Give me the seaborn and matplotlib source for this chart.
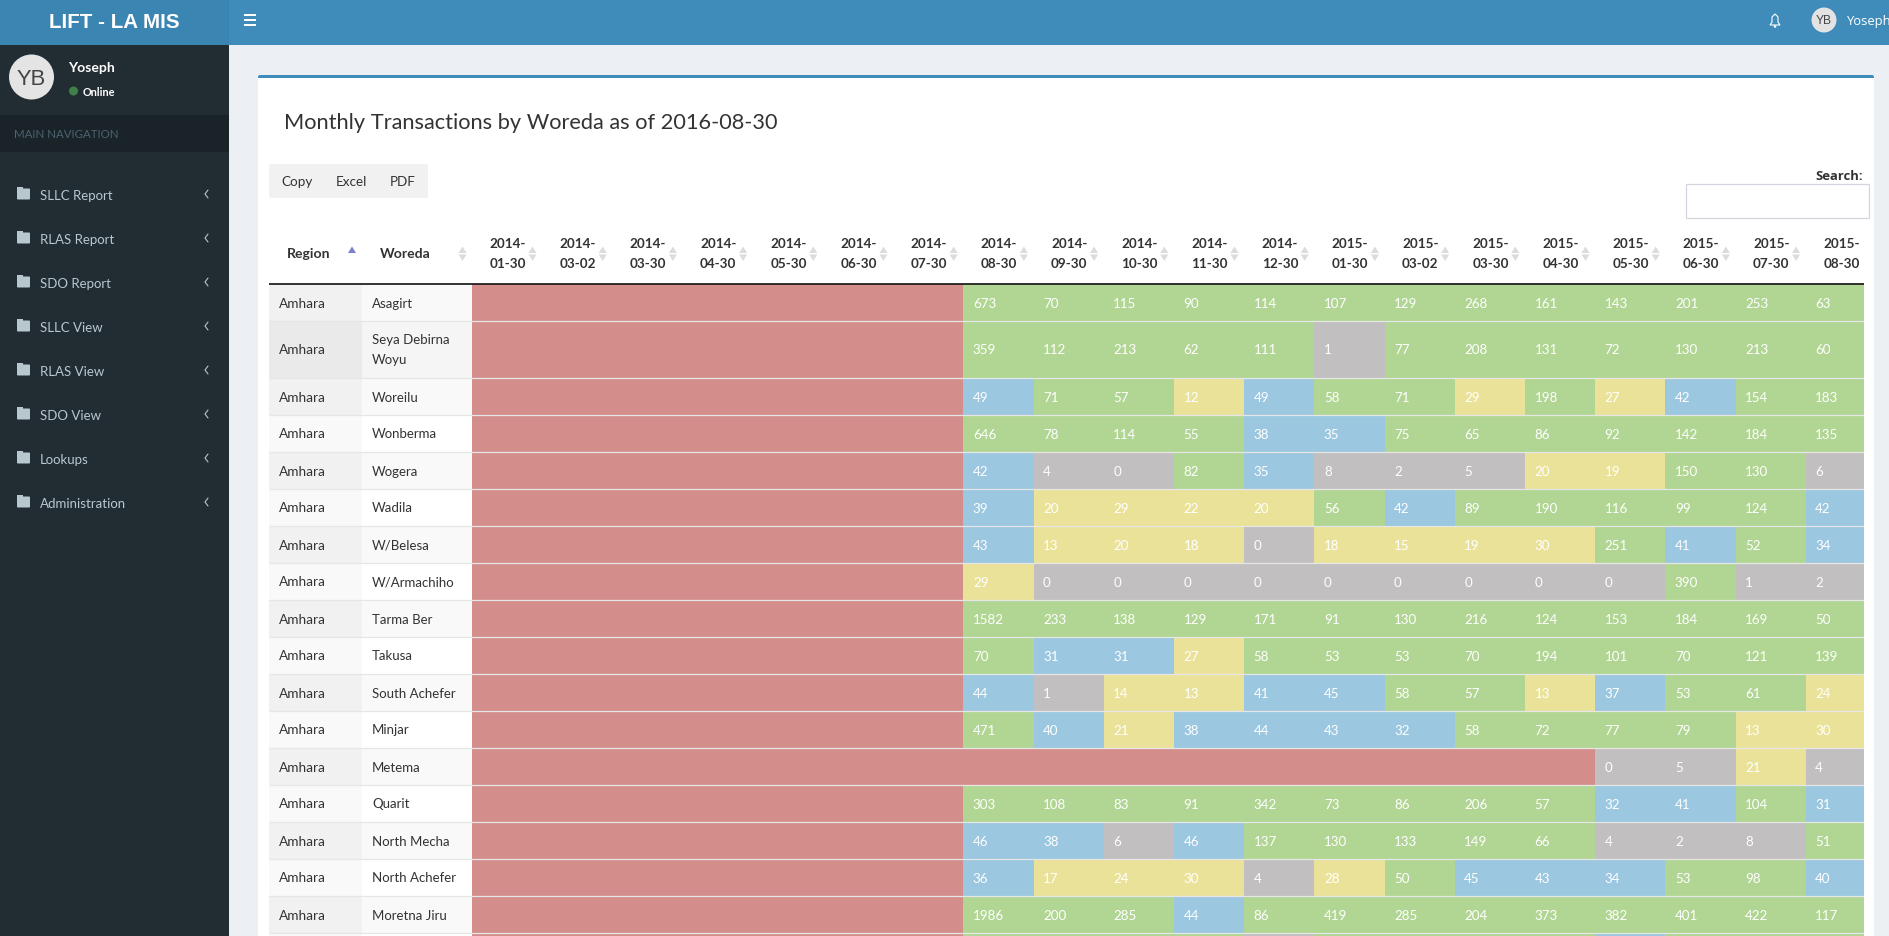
"""Monthly transactions by woreda, drawn as a dashboard screenshot."""

import matplotlib.pyplot as plt
import numpy as np
import pandas as pd
import seaborn as sns
from matplotlib.colors import BoundaryNorm, ListedColormap
from matplotlib.patches import Circle, FancyBboxPatch, Polygon, Rectangle

MONTHS = [
    "2014-01-30", "2014-03-02", "2014-03-30", "2014-04-30", "2014-05-30",
    "2014-06-30", "2014-07-30", "2014-08-30", "2014-09-30", "2014-10-30",
    "2014-11-30", "2014-12-30", "2015-01-30", "2015-03-02", "2015-03-30",
    "2015-04-30", "2015-05-30", "2015-06-30", "2015-07-30", "2015-08-30",
]
WOREDAS = [
    "Asagirt", "Seya Debirna\nWoyu", "Woreilu", "Wonberma", "Wogera", "Wadila",
    "W/Belesa", "W/Armachiho", "Tarma Ber", "Takusa", "South Achefer", "Minjar",
    "Metema", "Quarit", "North Mecha", "North Achefer", "Moretna Jiru",
]
NO_DATA = [np.nan] * 7

ASAGIRT = NO_DATA + [673, 70, 115, 90, 114, 107, 129, 268, 161, 143, 201, 253, 63]
SEYA = NO_DATA + [359, 112, 213, 62, 111, 1, 77, 208, 131, 72, 130, 213, 60]
WOREILU = NO_DATA + [49, 71, 57, 12, 49, 58, 71, 29, 198, 27, 42, 154, 183]
WONBERMA = NO_DATA + [646, 78, 114, 55, 38, 35, 75, 65, 86, 92, 142, 184, 135]
WOGERA = NO_DATA + [42, 4, 0, 82, 35, 8, 2, 5, 20, 19, 150, 130, 6]
WADILA = NO_DATA + [39, 20, 29, 22, 20, 56, 42, 89, 190, 116, 99, 124, 42]
BELESA = NO_DATA + [43, 13, 20, 18, 0, 18, 15, 19, 30, 251, 41, 52, 34]
ARMACHIHO = NO_DATA + [29, 0, 0, 0, 0, 0, 0, 0, 0, 0, 390, 1, 2]
TARMA_BER = NO_DATA + [1582, 233, 138, 129, 171, 91, 130, 216, 124, 153, 184, 169, 50]
TAKUSA = NO_DATA + [70, 31, 31, 27, 58, 53, 53, 70, 194, 101, 70, 121, 139]
SOUTH_ACHEFER = NO_DATA + [44, 1, 14, 13, 41, 45, 58, 57, 13, 37, 53, 61, 24]
MINJAR = NO_DATA + [471, 40, 21, 38, 44, 43, 32, 58, 72, 77, 79, 13, 30]
METEMA = NO_DATA + [np.nan] * 9 + [0, 5, 21, 4]
QUARIT = NO_DATA + [303, 108, 83, 91, 342, 73, 86, 206, 57, 32, 41, 104, 31]
NORTH_MECHA = NO_DATA + [46, 38, 6, 46, 137, 130, 133, 149, 66, 4, 2, 8, 51]
NORTH_ACHEFER = NO_DATA + [36, 17, 24, 30, 4, 28, 50, 45, 43, 34, 53, 98, 40]
MORETNA_JIRU = NO_DATA + [1986, 200, 285, 44, 86, 419, 285, 204, 373, 382, 401, 422, 117]
# only the top edge of this row shows, its numbers are guessed from the colours
CUT_OFF_ROW = NO_DATA + [60, 60, 60, 60, 4, 60, 60, 60, 60, 40, 60, 60, 60]

ROWS = [
    ASAGIRT, SEYA, WOREILU, WONBERMA, WOGERA, WADILA, BELESA, ARMACHIHO, TARMA_BER,
    TAKUSA, SOUTH_ACHEFER, MINJAR, METEMA, QUARIT, NORTH_MECHA, NORTH_ACHEFER,
    MORETNA_JIRU, CUT_OFF_ROW,
]
MENU_ITEMS = [
    "SLLC Report", "RLAS Report", "SDO Report", "SLLC View",
    "RLAS View", "SDO View", "Lookups", "Administration",
]

BANDS = [0, 10, 31, 50, 100000]
BAND_COLORS = ["#c1bfc0", "#ebe299", "#9bc7e0", "#b1d693"]
MISSING_COLOR = "#d38d8b"

WIDTH, HEIGHT = 1890, 936
TABLE_TOP = 283.5
COL_LEFT = 472
COL_W = 70.2
LAST_COL_W = 58
ROW_H = 37
TALL_ROW_H = 57
FONT = "Lato"
TEXT = "#333333"


def px_rect(ax, x0, y0, x1, y1, color, **kwargs):
    ax.add_patch(Rectangle((x0, y0), x1 - x0, y1 - y0, facecolor=color, edgecolor="none", **kwargs))


def label(ax, x, y, text, size, color=TEXT, weight="normal", ha="left", family=FONT, **kwargs):
    return ax.text(x, y, text, fontsize=size * 0.72, color=color, fontweight=weight, ha=ha,
                   va="center_baseline", family=family, **kwargs)


def draw_chrome(ax):
    px_rect(ax, 0, 0, WIDTH, HEIGHT, "#ecf0f5")
    px_rect(ax, 0, 0, WIDTH, 45, "#3f8cbb")
    px_rect(ax, 0, 0, 229, 45, "#3b85b2")
    px_rect(ax, 0, 45, 229, HEIGHT, "#222d33")
    px_rect(ax, 0, 115, 229, 152, "#1a2327")
    label(ax, 114.5, 20, "LIFT - LA MIS", 20.5, "white", "bold", "center", "Liberation Sans")
    for y in (15, 20, 25):
        px_rect(ax, 244, y - 1.3, 256, y + 1.3, "white")

    # bell and user on the right of the top bar
    ax.add_patch(Polygon([(1770, 25), (1772, 22), (1772, 17), (1775, 14), (1778, 17), (1778, 22), (1780, 25)],
                         closed=True, facecolor="none", edgecolor="white", lw=0.8))
    ax.add_patch(Circle((1775, 26.5), 1.3, facecolor="white", edgecolor="none"))
    ax.add_patch(Circle((1824, 20), 12.5, facecolor="#e3e3e3", edgecolor="none"))
    label(ax, 1824, 20, "YB", 12, "#444444", ha="center", family="Liberation Sans")
    label(ax, 1847, 20, "Yoseph", 13, "white", family="Open Sans")

    # user panel
    ax.add_patch(Circle((31.5, 77), 22.5, facecolor="#e4e4e4", edgecolor="none"))
    label(ax, 31.5, 77, "YB", 22, "#444444", ha="center", family="Liberation Sans")
    label(ax, 68.5, 67.5, "Yoseph", 14, "white", "bold")
    ax.add_patch(Circle((73.5, 91), 4.5, facecolor="#3f7f4a", edgecolor="none"))
    label(ax, 83, 91, "Online", 11, "white", "bold")
    label(ax, 14, 134, "MAIN NAVIGATION", 11.5, "#4b646f")

    for i, item in enumerate(MENU_ITEMS):
        y = 194 + i * 44
        ax.add_patch(FancyBboxPatch((18, y - 4.5), 11, 9, boxstyle="round,pad=1", facecolor="#b8c7ce", edgecolor="none"))
        px_rect(ax, 17, y - 7, 23, y - 4, "#b8c7ce")
        label(ax, 40, y + 0.5, item, 13.2, "#b8c7ce")
        ax.plot([208, 205, 208], [y - 4, y, y + 4], color="#b8c7ce", lw=0.8)

    # main box
    ax.add_patch(FancyBboxPatch((260, 77), 1612, HEIGHT, boxstyle="round,pad=2", facecolor="#3c8dbc", edgecolor="none"))
    px_rect(ax, 258, 78, 1874, HEIGHT, "white")
    label(ax, 284, 121, "Monthly Transactions by Woreda as of 2016-08-30", 21.8)

    ax.add_patch(FancyBboxPatch((271, 166), 155, 30, boxstyle="round,pad=2", facecolor="#f1f1f1", edgecolor="none"))
    for x, name in zip((297, 351.5, 403), ("Copy", "Excel", "PDF")):
        label(ax, x, 181, name, 13.5, ha="center")
    label(ax, 1863.5, 175, "Search:", 13, weight="bold", ha="right", family="Open Sans")
    ax.add_patch(Rectangle((1686, 184), 183, 34, facecolor="white", edgecolor="#d2d6de", lw=0.9))


def sort_arrows(ax, x, up_color="#dcdcdc", down=True):
    ax.add_patch(Polygon([(x - 4, 253), (x + 4, 253), (x, 246.5)], facecolor=up_color, edgecolor="none"))
    if down:
        ax.add_patch(Polygon([(x - 4, 254.5), (x + 4, 254.5), (x, 261)], facecolor=up_color, edgecolor="none"))


def draw_table_labels(ax, row_edges):
    label(ax, 287, 253, "Region", 14, weight="bold")
    sort_arrows(ax, 352, "#7a80cc", down=False)
    label(ax, 380, 253, "Woreda", 14, weight="bold")
    sort_arrows(ax, 462.5)
    for i, month in enumerate(MONTHS):
        left = COL_LEFT + i * COL_W
        year, rest = month[:4], month[5:]
        label(ax, left + 17.5, 243, year + "-", 13.5, weight="bold")
        label(ax, left + 17.5, 263, rest, 13.5, weight="bold")
        if i < len(MONTHS) - 1:
            sort_arrows(ax, left + 60.5)

    for i in range(len(ROWS)):
        top, bottom = row_edges[i], row_edges[i + 1]
        striped = i % 2 == 0
        region_bg, woreda_bg = ("#f1f1f1", "#f9f9f9") if striped else ("#f9f9f9", "#ffffff")
        if i == 1:
            region_bg, woreda_bg = "#eaeaea", "#f5f5f5"
        px_rect(ax, 269, top, 362, bottom, region_bg)
        px_rect(ax, 362, top, COL_LEFT, bottom, woreda_bg)
        if i < len(WOREDAS):
            mid = (top + bottom) / 2 + 0.5
            label(ax, 279, mid, "Amhara", 13.6)
            lines = WOREDAS[i].split("\n")
            for k, line in enumerate(lines):
                label(ax, 372, mid + (k - (len(lines) - 1) / 2) * 20, line, 13.2)


def draw_heatmap(fig, row_edges):
    # heatmap cells are uniform, the function scales stretch them to the real table grid
    table = pd.DataFrame(ROWS, columns=MONTHS)
    col_edges = COL_LEFT + COL_W * np.arange(len(MONTHS) + 1)
    col_edges[-1] = col_edges[-2] + LAST_COL_W
    col_idx = np.arange(len(MONTHS) + 1)
    row_idx = np.arange(len(ROWS) + 1)

    ax = fig.add_axes([COL_LEFT / WIDTH, 0, (col_edges[-1] - COL_LEFT) / WIDTH, (HEIGHT - TABLE_TOP) / HEIGHT])
    cmap = ListedColormap(BAND_COLORS)
    cmap.set_bad(MISSING_COLOR)
    sns.heatmap(table, ax=ax, cmap=cmap, norm=BoundaryNorm(BANDS, cmap.N), cbar=False,
                xticklabels=False, yticklabels=False)
    ax.set_facecolor(MISSING_COLOR)
    ax.set_xscale("function", functions=(lambda v: np.interp(v, col_idx, col_edges),
                                         lambda p: np.interp(p, col_edges, col_idx)))
    ax.set_yscale("function", functions=(lambda v: np.interp(v, row_idx, row_edges),
                                         lambda p: np.interp(p, row_edges, row_idx)))
    ax.set_xlim(0, len(MONTHS))
    ax.set_ylim(np.interp(HEIGHT, row_edges, row_idx), 0)
    ax.set_xlabel("")
    ax.set_ylabel("")
    ax.tick_params(left=False, bottom=False, which="both", labelleft=False, labelbottom=False)

    for i, row in enumerate(ROWS[:len(WOREDAS)]):
        for j, value in enumerate(row):
            if not np.isnan(value):
                ax.annotate(str(int(value)), xy=(j, i + 0.5), xytext=(9.5, -0.5), textcoords="offset pixels",
                            fontsize=13.4 * 0.72, color="white", family=FONT, va="center_baseline")
    return ax


def main():
    sns.set_theme(style="white")
    fig = plt.figure(figsize=(WIDTH / 100, HEIGHT / 100), dpi=100)

    heights = [TALL_ROW_H if "\n" in w else ROW_H for w in WOREDAS] + [ROW_H]
    row_edges = TABLE_TOP + np.concatenate(([0], np.cumsum(heights)))

    page = fig.add_axes([0, 0, 1, 1], zorder=0)
    page.set_xlim(0, WIDTH)
    page.set_ylim(HEIGHT, 0)
    page.axis("off")
    draw_chrome(page)
    draw_table_labels(page, row_edges)

    heat_ax = draw_heatmap(fig, row_edges)
    heat_ax.set_zorder(1)

    # row separators and header rule go on top of everything
    over = fig.add_axes([0, 0, 1, 1], zorder=2)
    over.set_xlim(0, WIDTH)
    over.set_ylim(HEIGHT, 0)
    over.axis("off")
    over.patch.set_alpha(0)
    right = COL_LEFT + COL_W * 19 + LAST_COL_W
    over.hlines(row_edges[1:-1], 269, right, color="#e6e6e6", lw=0.9)
    over.hlines(TABLE_TOP, 269, right, color="#111111", lw=1.2)

    fig.savefig("out.png", dpi=100)
    plt.close(fig)


if __name__ == "__main__":
    main()
